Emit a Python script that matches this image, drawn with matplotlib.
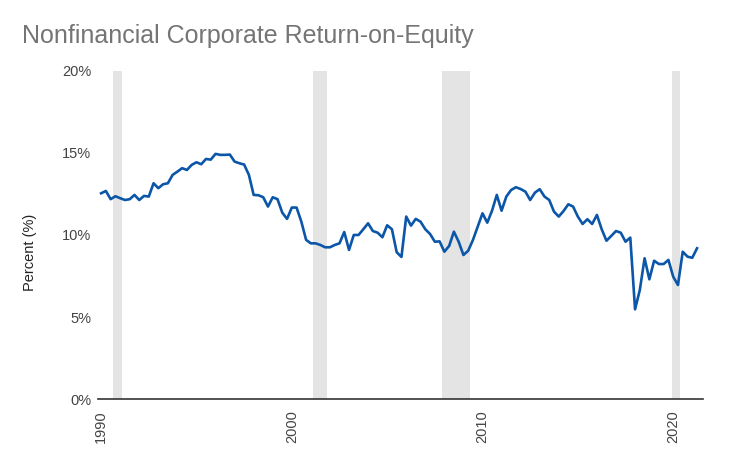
import matplotlib.pyplot as plt
import numpy as np

plt.rcParams["font.family"] = ["Liberation Sans", "DejaVu Sans"]

# quarterly return-on-equity (%), 1990Q1 .. 2021Q2
roe = [
    12.54, 12.68, 12.18, 12.36, 12.24, 12.13, 12.18, 12.44, 12.13, 12.38,
    12.34, 13.15, 12.85, 13.09, 13.15, 13.66, 13.86, 14.07, 13.96, 14.27,
    14.43, 14.31, 14.63, 14.59, 14.94, 14.88, 14.88, 14.90, 14.47, 14.37,
    14.29, 13.66, 12.44, 12.42, 12.30, 11.73, 12.30, 12.18, 11.36, 10.98,
    11.67, 11.67, 10.81, 9.70, 9.49, 9.49, 9.39, 9.25, 9.25, 9.39,
    9.49, 10.18, 9.09, 10.00, 10.00, 10.35, 10.71, 10.24, 10.14, 9.86,
    10.59, 10.35, 8.95, 8.66, 11.12, 10.57, 10.98, 10.81, 10.35, 10.06,
    9.59, 9.61, 8.98, 9.33, 10.20, 9.59, 8.78, 9.04, 9.70, 10.51,
    11.32, 10.75, 11.48, 12.44, 11.48, 12.34, 12.74, 12.91, 12.80, 12.64,
    12.13, 12.58, 12.79, 12.34, 12.13, 11.42, 11.12, 11.46, 11.87, 11.73,
    11.12, 10.67, 10.96, 10.67, 11.22, 10.35, 9.65, 9.94, 10.24, 10.14,
    9.59, 9.84, 5.47, 6.65, 8.58, 7.30, 8.43, 8.23, 8.23, 8.48,
    7.46, 6.95, 8.98, 8.68, 8.61, 9.19,
]
dates = 1990 + np.arange(len(roe)) * 0.25

# recession periods (start, end) in fractional years
recessions = [(1990.6, 1991.08), (2001.13, 2001.83), (2007.88, 2009.35), (2019.95, 2020.38)]

yticks = [0, 5, 10, 15, 20]
xticks = [1990, 2000, 2010, 2020]

fig = plt.figure(figsize=(7.5, 4.63), dpi=100)
ax = fig.add_axes([0.131, 0.138, 0.806, 0.709])

for start, end in recessions:
    ax.axvspan(start, end, color="#e4e4e4", lw=0, zorder=1)

ax.plot(dates, roe, color="#0b56a8", lw=1.9, zorder=3)

ax.set_xlim(1989.85, 2021.55)
ax.set_ylim(0, 20)
ax.set_yticks(yticks)
ax.set_yticklabels([f"{v}%" for v in yticks])
ax.set_xticks(xticks)
ax.set_xticklabels([str(v) for v in xticks], rotation=90)
ax.tick_params(axis="both", length=0, labelsize=10.5, labelcolor="#444444")
ax.tick_params(axis="y", pad=5)
ax.tick_params(axis="x", pad=8)

for side in ["top", "right", "left"]:
    ax.spines[side].set_visible(False)
ax.spines["bottom"].set_color("#333333")
ax.spines["bottom"].set_linewidth(1.2)
ax.spines["bottom"].set_zorder(4)

ax.set_ylabel("Percent (%)", fontsize=10.5, color="#222222")
ax.yaxis.set_label_coords(-0.101, 0.448)
fig.text(0.029, 0.922, "Nonfinancial Corporate Return-on-Equity",
         fontsize=18, color="#757575", va="center")

fig.savefig("out.png", dpi=100)
